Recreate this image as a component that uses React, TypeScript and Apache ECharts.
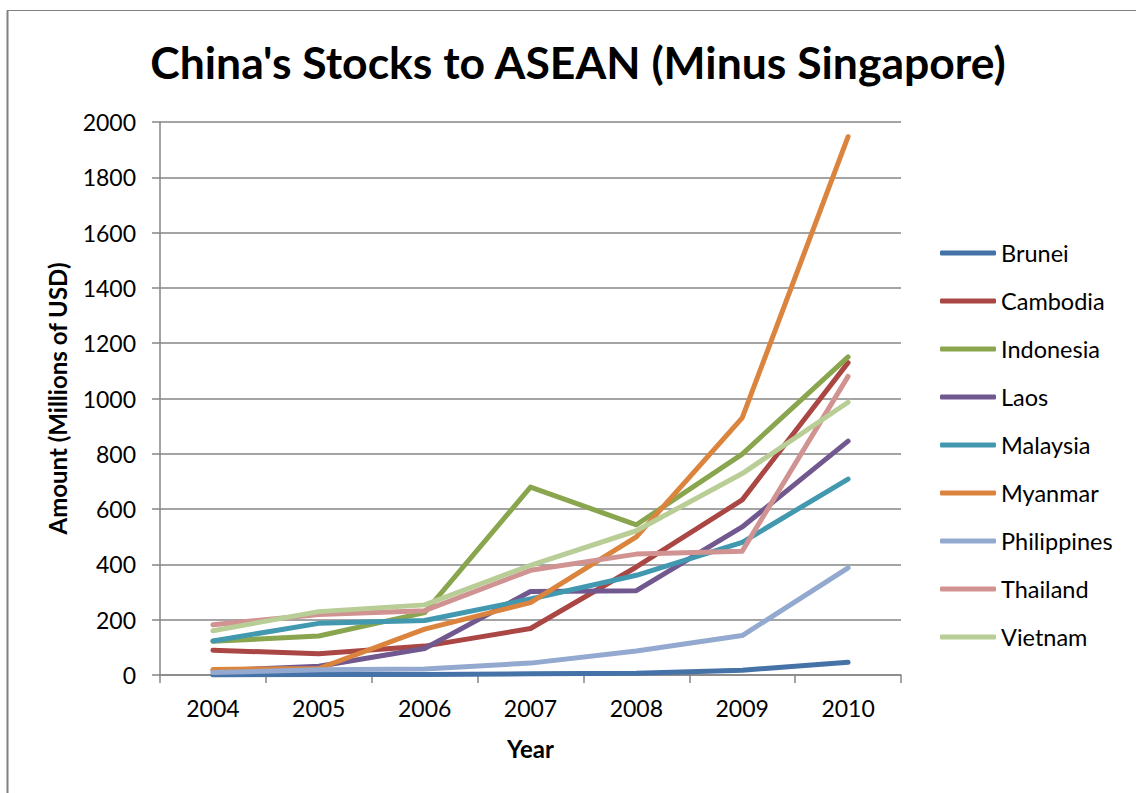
import React, { useEffect, useRef } from "react";
import * as echarts from "echarts";

const years = ["2004", "2005", "2006", "2007", "2008", "2009", "2010"];
const countries = ["Brunei", "Cambodia", "Indonesia", "Laos", "Malaysia", "Myanmar", "Philippines", "Thailand", "Vietnam"];

const brunei = [0.2, 1.9, 1.9, 4.4, 6.5, 17.4, 45.7];
const cambodia = [89.5, 76.9, 104.5, 168.1, 390.7, 633.3, 1129.8];
const indonesia = [121.7, 140.9, 225.5, 679.5, 543.3, 799.1, 1150.4];
const laos = [15.4, 31.6, 96.1, 302.2, 304.9, 535.5, 845.8];
const malaysia = [123.2, 186.8, 196.9, 274.6, 360.6, 479.9, 708.6];
const myanmar = [20.2, 23.6, 166.1, 261.8, 499.7, 929.9, 1946.8];
const philippines = [8.7, 19.4, 21.9, 43.0, 86.7, 142.6, 387.3];
const thailand = [182.0, 219.2, 232.7, 378.6, 437.2, 447.9, 1080.0];
const vietnam = [160.2, 229.2, 253.6, 396.9, 521.7, 728.5, 986.6];

const seriesValues = [brunei, cambodia, indonesia, laos, malaysia, myanmar, philippines, thailand, vietnam];
const colors = ["#4572A7", "#AA4643", "#89A54E", "#71588F", "#4198AF", "#DB843D", "#93A9CF", "#D19392", "#B9CD96"];

const titleText = "China's Stocks to ASEAN (Minus Singapore)";
const yAxisName = "Amount (Millions of USD)";
const xAxisName = "Year";

const FONT = "Lato";

export default function App() {
  const ref = useRef<HTMLDivElement>(null);
  useEffect(() => {
    if (!ref.current) return;
    const chart = echarts.init(ref.current, undefined, { renderer: "svg" });
    const gray = "#868686";
    chart.setOption({
      animation: false,
      backgroundColor: "#ffffff",
      color: colors,
      title: {
        text: titleText,
        left: 573,
        top: 34,
        textAlign: "center",
        textStyle: { fontFamily: FONT, fontWeight: "bold", fontSize: 44.5, color: "#000" },
      },
      legend: {
        orient: "vertical",
        left: 940,
        top: 241,
        padding: 0,
        itemWidth: 56,
        itemHeight: 5,
        itemGap: 24,
        icon: "roundRect",
        data: countries,
        textStyle: { fontFamily: FONT, fontSize: 23.5, color: "#000", lineHeight: 24 },
      },
      grid: { left: 160, right: 235, top: 122, bottom: 118, containLabel: false },
      xAxis: {
        type: "category",
        data: years,
        boundaryGap: true,
        name: xAxisName,
        nameLocation: "middle",
        nameGap: 61,
        nameTextStyle: { fontFamily: FONT, fontWeight: "bold", fontSize: 24, color: "#000" },
        axisLine: { lineStyle: { color: gray, width: 1.5 } },
        axisTick: { show: true, length: 8, inside: false, alignWithLabel: false, lineStyle: { color: gray, width: 1.5 } },
        axisLabel: { fontFamily: FONT, fontSize: 23, color: "#000", margin: 21 },
        splitLine: { show: false },
      },
      yAxis: {
        type: "value",
        min: 0,
        max: 2000,
        interval: 200,
        name: yAxisName,
        nameLocation: "middle",
        nameGap: 91,
        nameRotate: 90,
        nameTextStyle: { fontFamily: FONT, fontWeight: "bold", fontSize: 24, color: "#000" },
        axisLine: { show: true, lineStyle: { color: gray, width: 1.5 } },
        axisTick: { show: true, length: 8, lineStyle: { color: gray, width: 1.5 } },
        axisLabel: { fontFamily: FONT, fontSize: 23, color: "#000", margin: 24, formatter: (v: number) => String(v) },
        splitLine: { show: true, lineStyle: { color: gray, width: 1.5 } },
      },
      graphic: [
        { type: "line", shape: { x1: 7.5, y1: 10.5, x2: 7.5, y2: 793 }, style: { stroke: "#808080", lineWidth: 2 } },
        { type: "line", shape: { x1: 7, y1: 10.5, x2: 1136, y2: 10.5 }, style: { stroke: "#808080", lineWidth: 1.2 } },
      ],
      series: countries.map((name, i) => ({
        name,
        type: "line",
        data: seriesValues[i],
        symbol: "none",
        showSymbol: false,
        lineStyle: { width: 5, color: colors[i], cap: "round", join: "round" },
        itemStyle: { color: colors[i] },
      })),
    });
    return () => chart.dispose();
  }, []);
  return <div ref={ref} style={{ position: "fixed", left: 0, top: 0, width: 1136, height: 793 }} />;
}
